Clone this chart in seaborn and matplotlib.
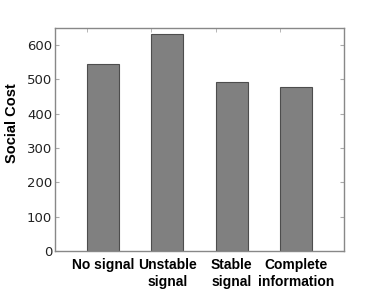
import matplotlib
matplotlib.use('Agg')
import matplotlib.pyplot as plt
import seaborn as sns
import pandas as pd
import numpy as np

# Dados
categories = ['No signal', 'Unstable\nsignal', 'Stable\nsignal', 'Complete\ninformation']
social_cost = [545, 632, 492, 479]

df = pd.DataFrame({'scenario': categories, 'cost': social_cost})

sns.set_style('white')
plt.rcParams['font.family'] = ['Liberation Sans', 'DejaVu Sans']

fig = plt.figure(figsize=(3.82, 2.99), dpi=100)
ax = fig.add_axes([0.144, 0.1605, 0.7565, 0.7459])

sns.barplot(data=df, x='scenario', y='cost', color='#808080', saturation=1,
            width=0.5, edgecolor='#4d4d4d', linewidth=0.8, ax=ax)

ax.set_xlim(-0.75, 3.75)
ax.set_ylim(0, 650)
ax.set_yticks(range(0, 601, 100))

# rótulos no centro, ticks nas bordas esquerdas das barras
ax.tick_params(axis='x', which='major', length=0, pad=5, labelsize=10)
for lab in ax.get_xticklabels():
    lab.set_fontweight('bold')
    lab.set_linespacing(1.3)
    lab.set_color('black')
ax.set_xticks(np.arange(4) - 0.25, minor=True)
ax.tick_params(axis='x', which='minor', direction='in', length=3, color='#aaaaaa',
               top=True, bottom=True)
ax.tick_params(axis='y', direction='in', length=3, color='#aaaaaa', right=True,
               left=True, labelsize=9.5, pad=2)
for lab in ax.get_yticklabels():
    lab.set_family('DejaVu Sans')
    lab.set_color('#222222')

for sp in ax.spines.values():
    sp.set_color('#888888')
    sp.set_linewidth(1.0)

ax.set_xlabel('')
ax.set_ylabel('Social Cost', fontsize=10.5, fontweight='bold', color='black')
ax.yaxis.set_label_coords(-0.125, 0.574)

plt.savefig('out.png', dpi=100)
